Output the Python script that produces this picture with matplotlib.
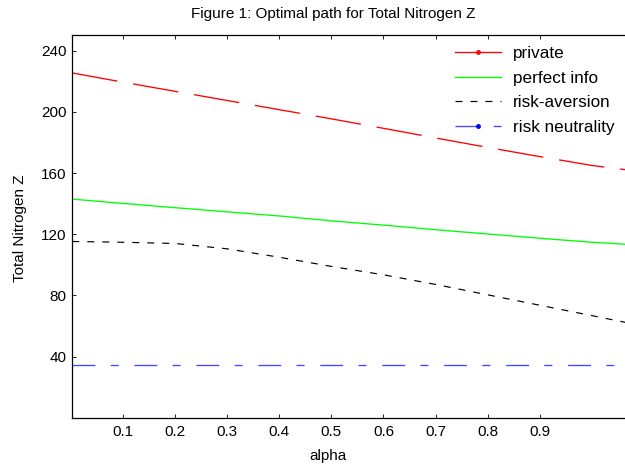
import matplotlib
matplotlib.use("Agg")
import matplotlib.pyplot as plt
from matplotlib.lines import Line2D

plt.rcParams['font.family'] = ['Liberation Sans', 'DejaVu Sans']
plt.rcParams['lines.scale_dashes'] = False

# values
alpha = [0.003, 0.1, 0.2, 0.3, 0.4, 0.5, 0.6, 0.7, 0.8, 0.9, 1.0, 1.07]
private = [225.5, 219.5, 213.5, 207.5, 201.5, 195.5, 189.3, 183.0, 176.8, 170.8, 165.0, 162.0]
perfect_info = [143.0, 140.2, 137.4, 134.7, 132.0, 128.8, 126.0, 123.0, 120.2, 117.4, 114.8, 113.4]
risk_aversion = [115.3, 114.8, 114.0, 110.5, 105.0, 99.0, 93.5, 87.2, 80.4, 73.6, 66.8, 62.0]
risk_neutrality = [34.6, 34.6, 34.6, 34.6, 34.6, 34.6, 34.6, 34.6, 34.6, 34.6, 34.6, 34.6]
labels = ["private", "perfect info", "risk-aversion", "risk neutrality"]
xticks = [0.1, 0.2, 0.3, 0.4, 0.5, 0.6, 0.7, 0.8, 0.9]
yticks = [40, 80, 120, 160, 200, 240]

fig = plt.figure(figsize=(6.25, 4.66), dpi=100)
ax = fig.add_axes([72.3/625, 1-417.8/466, 1.005-72.3/625, (417.8-35.5)/466])

lw = 0.95
blue = '#4646ff'
ax.plot(alpha, private, color='r', lw=lw, linestyle=(0, (33, 11.5)))
ax.plot(alpha, perfect_info, color='lime', lw=lw, linestyle='-')
ax.plot(alpha, risk_aversion, color='k', lw=0.85, linestyle=(0, (5, 5.8)))
ax.plot(alpha, risk_neutrality, color=blue, lw=lw, linestyle=(0, (16.5, 11, 5.8, 11.3)))

ax.set_xlim(0.003, 1.0693)
ax.set_ylim(0, 250)
ax.set_xticks(xticks)
ax.set_xticklabels([str(t) for t in xticks])
ax.set_yticks(yticks)
ax.tick_params(direction='in', top=True, right=False, length=3, width=0.6,
               labelsize=11, colors='k')
ax.tick_params(axis='x', pad=5)
ax.tick_params(axis='y', pad=4)
for s in ax.spines.values():
    s.set_linewidth(0.9)

fig.text(333/625, 1-14/466, "Figure 1: Optimal path for Total Nitrogen Z",
         ha='center', va='center', fontsize=11)
fig.text(328/625, 1-456/466, "alpha", ha='center', va='center', fontsize=11)
fig.text(20/625, 1-228/466, "Total Nitrogen Z", ha='center', va='center',
         rotation=90, fontsize=11)

handles = [
    Line2D([], [], color='r', lw=lw, marker='.', markersize=5),
    Line2D([], [], color='lime', lw=lw),
    Line2D([], [], color='k', lw=0.85, linestyle=(0, (5, 5.8))),
    Line2D([], [], color=blue, lw=lw, linestyle=(0, (16.5, 11)), marker='.',
           markersize=5, markerfacecolor='b', markeredgecolor='b'),
]
leg = fig.legend(handles, labels, loc='upper left', bbox_to_anchor=(455/625, 1-46/466),
                 frameon=False, fontsize=12.3, handlelength=2.7, handletextpad=0.68,
                 labelspacing=0.56, borderpad=0, borderaxespad=0, numpoints=1)

fig.savefig("out.png", dpi=100)
